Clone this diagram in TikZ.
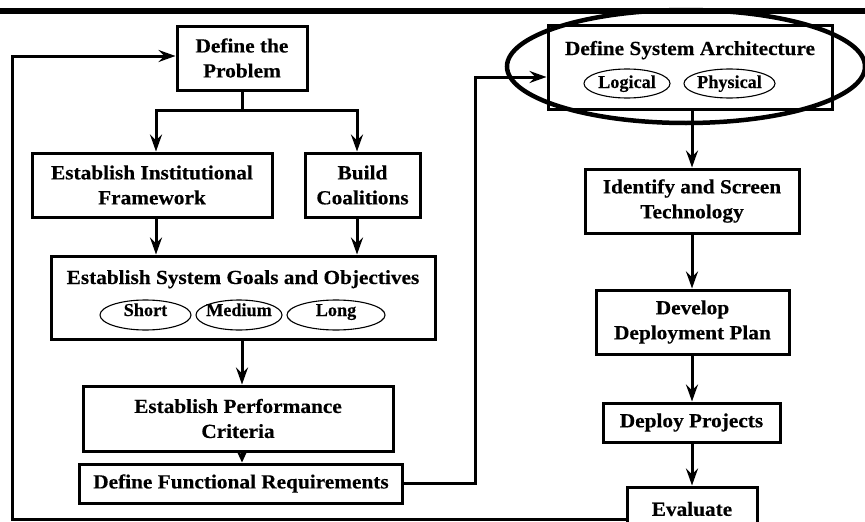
\documentclass[tikz,border=0pt]{standalone}
\usepackage{fontspec}
\setmainfont{Liberation Serif}[FakeStretch=1.065,BoldFeatures={FakeBold=0.3}]
\newfontfamily\subserif{Liberation Serif}[BoldFeatures={FakeBold=0.3}]
\usetikzlibrary{arrows.meta,shapes.geometric}
\begin{document}
\begin{tikzpicture}[x=1pt,y=-1pt,
  box/.style={draw,line width=3pt,rectangle,inner sep=0pt,align=center,font=\bfseries\fontsize{20}{25}\selectfont},
  sublbl/.style={inner sep=0pt,anchor=base,font=\subserif\bfseries\fontsize{18.2}{20}\selectfont},
  subring/.style={line width=1.1pt},
  lbl/.style={inner sep=0pt,anchor=base,font=\bfseries\fontsize{20}{25}\selectfont},
  conn/.style={line width=3pt},
  arr/.style={conn,-{Stealth[length=17pt,width=12pt,inset=6pt]}},
  arrsmall/.style={conn,-{Stealth[length=12pt,width=11pt,inset=4pt]}}]
\useasboundingbox (0,0) rectangle (865,522);
\clip (0,0) rectangle (865,522);
% top bar
\fill (0,8) rectangle (865,14);
% left column
\node[box,minimum width=130pt,minimum height=64pt] (prob) at (242,58) {Define the\\Problem};
\node[box,minimum width=240pt,minimum height=64pt] (inst) at (152,185) {Establish Institutional\\Framework};
\node[box,minimum width=115pt,minimum height=64pt] (coal) at (362.5,185) {Build\\Coalitions};
\node[box,minimum width=384pt,minimum height=83pt] (goals) at (243,297.5) {};
\node[lbl] (goalsT) at (243,284) {Establish System Goals and Objectives};
\node[sublbl] (short) at (145.5,316) {Short};
\node[sublbl] (medium) at (239,316) {Medium};
\node[sublbl] (long) at (336,316) {Long};
\draw[subring] (145.5,315) ellipse [x radius=45.5pt, y radius=15pt];
\draw[subring] (239,315) ellipse [x radius=43pt, y radius=15pt];
\draw[subring] (336,315) ellipse [x radius=49pt, y radius=15pt];
\node[box,minimum width=310pt,minimum height=65pt] (perf) at (238,418.5) {Establish Performance\\Criteria};
\node[box,minimum width=323pt,minimum height=39pt] (func) at (241,483.5) {Define Functional Requirements};
% right column
\node[box,minimum width=284pt,minimum height=84pt] (arch) at (690,67) {};
\node[lbl] (archT) at (690,55) {Define System Architecture};
\node[sublbl] (logical) at (627,88) {Logical};
\node[sublbl] (physical) at (729.5,88) {Physical};
\draw[subring] (627,83.5) ellipse [x radius=43pt, y radius=14.5pt];
\draw[subring] (729.5,83.5) ellipse [x radius=45.5pt, y radius=14.5pt];
\node[draw,ellipse,line width=4.5pt,minimum width=358pt,minimum height=113pt,inner sep=0pt] (ring) at (686,66.5) {};
\node[box,minimum width=214pt,minimum height=64pt] (ident) at (692,201) {Identify and Screen\\Technology};
\node[box,minimum width=193pt,minimum height=64pt] (dev) at (692.5,322) {Develop\\Deployment Plan};
\node[box,minimum width=177pt,minimum height=39pt] (dep) at (691.5,422.5) {Deploy Projects};
\node[box,minimum width=130pt,minimum height=44pt] (eval) at (692,509) {Evaluate};
% helper coordinates
\coordinate (stem) at (242,110);
\coordinate (forkL) at (156,110);
\coordinate (forkR) at (357,110);
\coordinate (midL) at (242,0);
\coordinate (riser) at (475,0);
\coordinate (axis) at (692,0);
\coordinate (fbY) at (0,519);
\coordinate (leftX) at (12,0);
\coordinate (archIn) at ([yshift=-10pt]arch.west);
\coordinate (probIn) at ([yshift=2pt]prob.west);
% connectors
\draw[conn] (prob.south) -- (stem);
\draw[arr] (stem) -| (forkL |- inst.north);
\draw[arr] (stem) -| (forkR |- coal.north);
\draw[arr] (inst.south -| forkL) -- (forkL |- goals.north);
\draw[arr] (coal.south -| forkR) -- (forkR |- goals.north);
\draw[arr] (goals.south -| midL) -- (midL |- perf.north);
\draw[arrsmall] (perf.south -| midL) -- (midL |- func.north);
\draw[arr] (func.east) -| (riser |- archIn) -- (archIn);
\draw[arr] (arch.south -| axis) -- (axis |- ident.north);
\draw[arr] (ident.south -| axis) -- (axis |- dev.north);
\draw[arr] (dev.south -| axis) -- (axis |- dep.north);
\draw[arr] (dep.south -| axis) -- (axis |- eval.north);
\draw[arr] (eval.west |- fbY) -| (leftX |- probIn) -- (probIn);
\end{tikzpicture}
\end{document}
